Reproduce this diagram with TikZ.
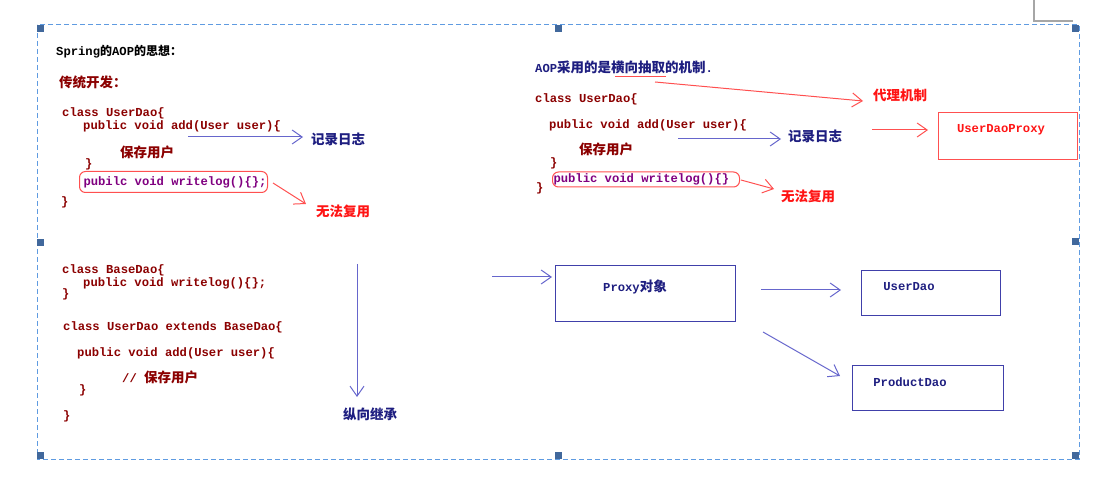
\documentclass[tikz,border=0pt]{standalone}
\usepackage{fontspec}
\usetikzlibrary{arrows.meta,positioning,calc}
\newfontfamily\codefont{Liberation Mono}
\newfontfamily\cjk{Noto Sans CJK SC}
\newcommand\zh[1]{{\cjk\fontsize{13.5}{14}\selectfont #1}}
\definecolor{codered}{RGB}{139,0,0}
\definecolor{codepurple}{RGB}{128,0,128}
\definecolor{navytext}{RGB}{30,30,128}
\definecolor{arrowblue}{RGB}{102,102,204}
\definecolor{boxblue}{RGB}{64,64,170}
\definecolor{linered}{RGB}{255,80,80}
\definecolor{textred}{RGB}{255,20,20}
\definecolor{framblue}{RGB}{95,155,225}
\definecolor{handleblue}{RGB}{65,104,156}

\begin{document}
\begin{tikzpicture}[x=1pt,y=-1pt,
  code/.style={anchor=west,inner sep=0pt,text=codered,font={\codefont\bfseries\fontsize{12.2}{14}\selectfont}},
  note/.style={anchor=west,inner sep=0pt,font={\cjk\bfseries\fontsize{13.5}{14}\selectfont}},
  logbox/.style={code,text=codepurple,draw=linered,line width=1pt,rounded corners=6pt,inner ysep=0pt},
  bluearrow/.style={draw=arrowblue,line width=1pt,-{Straight Barb[length=10pt,width=14pt]}},
  redarrow/.style={draw=linered,line width=1pt,-{Straight Barb[length=10pt,width=14pt]}},
  daobox/.style={draw=boxblue,line width=1.4pt,anchor=north west,inner sep=0pt},
  boxlabel/.style={inner sep=0pt,text=navytext,font={\codefont\bfseries\fontsize{12.2}{14}\selectfont}}]
\useasboundingbox (0,0) rectangle (1103,486);

% canvas frame and handles
\draw[gray!70,line width=1.2pt] (1034,0) -- (1034,21) -- (1073,21);
\draw[framblue,line width=1pt,dash pattern=on 5pt off 3pt] (37,25) rectangle (1079,459);
\foreach \hx/\hy in {37/25,555/25,1072/25,37/239,1072/238,37/452,555/452,1072/452}
  \fill[handleblue] (\hx,\hy) rectangle ++(7,7);

% traditional way
\node[code,text=black] (title) at (56,52) {Spring{\cjk\bfseries\fontsize{12}{14}\selectfont 的}AOP{\cjk\bfseries\fontsize{12}{14}\selectfont 的思想：}};
\node[note,text=codered] (trad) at (59,82) {传统开发：};
\node[code] (c1) at (62,113) {class UserDao\{};
\node[code] (c2) at (83,126) {public void add(User user)\{};
\node[note,text=codered] (save1) at (120,152) {保存用户};
\node[code] (c3) at (85,164) {\}};
\node[logbox,inner xsep=4pt,minimum height=21pt] (w1) at (79,182) {\makebox[180pt][l]{pubilc void writelog()\{\};}};
\node[code] (c4) at (61,202) {\}};
\node[note,text=navytext] (log1) at (311,139) {记录日志};
\node[note,text=textred] (reuse1) at (316,211) {无法复用};
\coordinate (l1s) at (188,137);
\coordinate (l1e) at (303,137);
\draw[bluearrow] (l1s) -- (l1e);
\coordinate (r1s) at (273,183);
\coordinate (r1e) at (306,204);
\draw[redarrow] (r1s) -- (r1e);

% inheritance
\node[code] (b1) at (62,270) {class BaseDao\{};
\node[code] (b2) at (83,283) {public void writelog()\{\};};
\node[code] (b3) at (62,294) {\}};
\node[code] (b4) at (63,327) {class UserDao extends BaseDao\{};
\node[code] (b5) at (77,353) {public void add(User user)\{};
\node[code] (b6) at (122,377) {// \zh{保存用户}};
\node[code] (b7) at (79,390) {\}};
\node[code] (b8) at (63,416) {\}};
\node[note,text=navytext] (inherit) at (343,414) {纵向继承};
\coordinate (vs) at (357,264);
\coordinate (ve) at (357,397);
\draw[bluearrow] (vs) -- (ve);

% AOP way
\node[note,text=navytext] (aop) at (535,67) {{\codefont\bfseries\fontsize{12.2}{14}\selectfont AOP}采用的是横向抽取的机制{\codefont\bfseries\fontsize{12.2}{14}\selectfont .}};
\coordinate (u1) at (615,77);
\coordinate (u2) at (666,77);
\draw[linered,line width=1pt] (u1) -- (u2);
\node[note,text=textred] (proxymech) at (873,95) {代理机制};
\coordinate (pm1) at (655,82);
\coordinate (pm2) at (863,101);
\draw[redarrow] (pm1) -- (pm2);
\node[code] (d1) at (535,99) {class UserDao\{};
\node[code] (d2) at (549,125) {public void add(User user)\{};
\node[note,text=codered] (save2) at (579,149) {保存用户};
\node[code] (d3) at (550,163) {\}};
\node[logbox,inner xsep=1pt,minimum height=15pt] (w2) at (552,179.5) {\makebox[185pt][l]{public void writelog()\{\}}};
\node[code] (d4) at (536,188) {\}};
\node[note,text=navytext] (log2) at (788,136) {记录日志};
\coordinate (l2s) at (678,139);
\coordinate (l2e) at (781,139);
\draw[bluearrow] (l2s) -- (l2e);
\node[note,text=textred] (reuse2) at (781,196) {无法复用};
\coordinate (r2s) at (741,180);
\coordinate (r2e) at (774,189);
\draw[redarrow] (r2s) -- (r2e);
\node[daobox,draw=linered,minimum width=139pt,minimum height=47pt] (udp) at (938,112) {};
\node[boxlabel,text=textred] (udplbl) at (1001,130) {UserDaoProxy};
\coordinate (pxs) at (872,130);
\draw[redarrow] (pxs) -- ([xshift=-10pt]pxs -| udp.west);

% proxy object
\node[daobox,minimum width=180pt,minimum height=56pt] (proxy) at (555,265) {};
\node[boxlabel] (proxylbl) at (635,287) {Proxy\zh{对象}};
\node[daobox,minimum width=139pt,minimum height=45pt] (userdao) at (861,270) {};
\node[boxlabel] (userdaolbl) at (909,287) {UserDao};
\node[daobox,minimum width=151pt,minimum height=45pt] (productdao) at (852,365) {};
\node[boxlabel] (productdaolbl) at (910,382) {ProductDao};
\coordinate (pin) at (492,277);
\draw[bluearrow] (pin) -- ([xshift=-3pt]pin -| proxy.west);
\coordinate (pu1) at (761,290);
\coordinate (pu2) at (841,290);
\draw[bluearrow] (pu1) -- (pu2);
\coordinate (pp1) at (763,332);
\coordinate (pp2) at (840,376);
\draw[bluearrow] (pp1) -- (pp2);
\end{tikzpicture}
\end{document}
